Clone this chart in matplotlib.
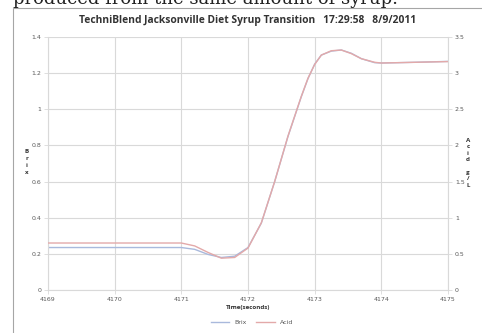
import matplotlib.pyplot as plt
from matplotlib.patches import Rectangle
from matplotlib.lines import Line2D

# time (seconds) and readings taken off the chart
brix_t = [4169.0, 4170.0, 4171.0, 4171.2, 4171.4, 4171.6, 4171.8, 4172.0, 4172.2, 4172.4,
          4172.6, 4172.8, 4172.9, 4173.0, 4173.1, 4173.25, 4173.4, 4173.55, 4173.7, 4173.9,
          4174.0, 4174.5, 4175.0]
brix = [0.235, 0.235, 0.235, 0.225, 0.197, 0.18, 0.187, 0.235, 0.37, 0.6,
        0.85, 1.07, 1.17, 1.25, 1.30, 1.322, 1.328, 1.31, 1.28, 1.258,
        1.256, 1.26, 1.265]
acid = [0.65, 0.65, 0.65, 0.61, 0.52, 0.44, 0.45, 0.58, 0.93, 1.5,
        2.13, 2.68, 2.93, 3.12, 3.25, 3.31, 3.32, 3.27, 3.2, 3.15,
        3.14, 3.15, 3.16]

x_ticks = [4169, 4170, 4171, 4172, 4173, 4174, 4175]
left_ticks = [0, 0.2, 0.4, 0.6, 0.8, 1.0, 1.2, 1.4]
left_labels = ['0', '0.2', '0.4', '0.6', '0.8', '1', '1.2', '1.4']
right_ticks = [0, 0.5, 1, 1.5, 2, 2.5, 3, 3.5]
right_labels = ['0', '0.5', '1', '1.5', '2', '2.5', '3', '3.5']

brix_color = '#a9b9dc'
acid_color = '#e3a9a9'
grid_color = '#d9d9d9'
tick_color = '#595959'

fig = plt.figure(figsize=(4.82, 3.33), dpi=100)
fig.patches.append(Rectangle((13 / 482, -0.1), 1.0, 1 - 8 / 333 + 0.1, transform=fig.transFigure,
                             fill=False, edgecolor='#a6a6a6', linewidth=0.8))

# page text, only its lower part shows at the top edge
fig.text(13 / 482, 1 - 4 / 333, 'produced from the same amount of syrup.', family='DejaVu Serif',
         fontsize=13, ha='left', va='baseline', color='#222222')

ax = fig.add_axes([48 / 482, 43 / 333, 400 / 482, 253 / 333])
ax.plot(brix_t, brix, color=brix_color, linewidth=1.0)
ax.set_xlim(4169, 4175)
ax.set_ylim(0, 1.4)
ax.set_xticks(x_ticks)
ax.set_xticklabels([str(t) for t in x_ticks])
ax.set_yticks(left_ticks)
ax.set_yticklabels(left_labels)
ax.grid(True, color=grid_color, linewidth=0.8)
ax.set_axisbelow(True)
for s in ['top', 'right']:
    ax.spines[s].set_visible(False)
for s in ['left', 'bottom']:
    ax.spines[s].set_color(grid_color)
ax.tick_params(labelsize=4.5, colors=tick_color, length=3, width=0.6, color=grid_color, pad=2)

ax2 = ax.twinx()
ax2.plot(brix_t, acid, color=acid_color, linewidth=1.0)
ax2.set_ylim(0, 3.5)
ax2.set_yticks(right_ticks)
ax2.set_yticklabels(right_labels)
for s in ['top', 'left', 'bottom']:
    ax2.spines[s].set_visible(False)
ax2.spines['right'].set_color(grid_color)
ax2.tick_params(labelsize=4.5, colors=tick_color, length=3, width=0.6, color=grid_color, pad=2)

fig.text(248 / 482, 1 - 20 / 333,
         'TechniBlend Jacksonville Diet Syrup Transition   17:29:58   8/9/2011',
         family='Open Sans', fontweight='bold', fontsize=7.4, ha='center', va='center',
         color='#333333')
fig.text(248 / 482, 1 - 307 / 333, 'Time(seconds)', family='Open Sans', fontweight='bold',
         fontsize=4.5, ha='center', va='center', color='#333333')
fig.text(27 / 482, 1 - 162 / 333, 'B\nr\ni\nx', family='Open Sans', fontweight='bold',
         fontsize=4.5, ha='center', va='center', color='#333333', linespacing=1.5)
fig.text(468 / 482, 1 - 163 / 333, 'A\nc\ni\nd\n \ng\n/\nL', family='Open Sans', fontweight='bold',
         fontsize=4.5, ha='center', va='center', color='#333333', linespacing=1.35)

handles = [Line2D([], [], color=brix_color, linewidth=1.0),
           Line2D([], [], color=acid_color, linewidth=1.0)]
fig.legend(handles, ['Brix', 'Acid'], loc='center', bbox_to_anchor=(252 / 482, 1 - 322 / 333),
           ncol=2, frameon=False, fontsize=4.5, handlelength=3, columnspacing=1.5,
           labelcolor=tick_color)

fig.savefig('out.png', dpi=100)
